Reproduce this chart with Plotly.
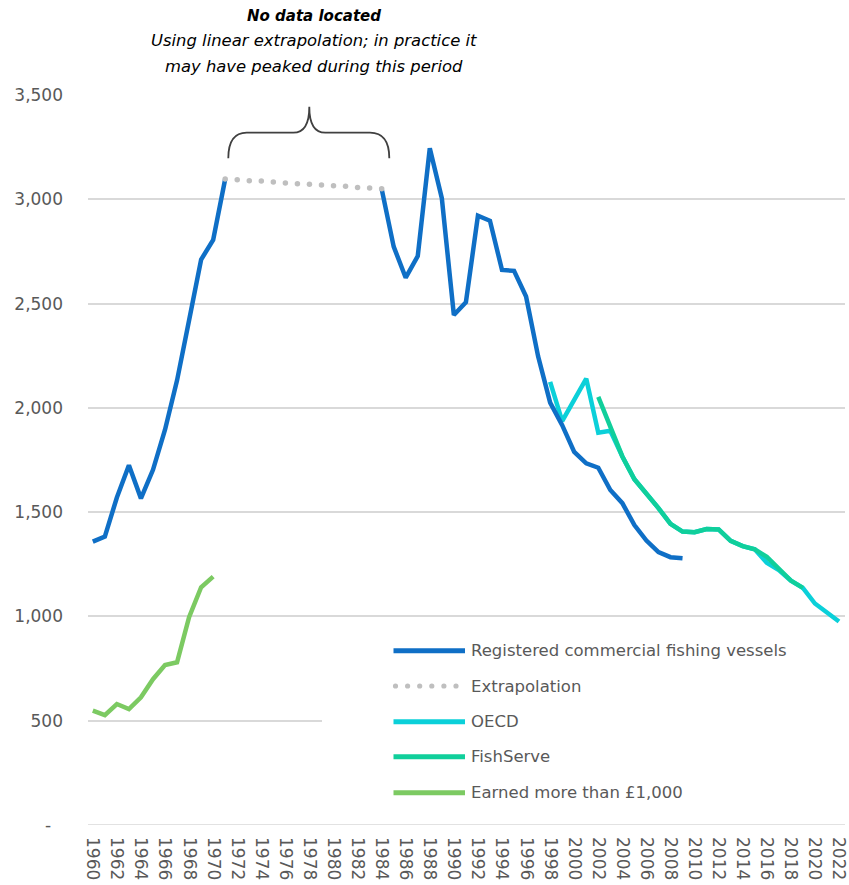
import plotly.graph_objects as go

# ---------------- data ----------------
vessel_years = list(range(1960, 2010))
vessel_values = [1359, 1383, 1570, 1725, 1566, 1703, 1895, 2132, 2420, 2711,
                 2805, 3097, None, None, None, None, None, None, None, None,
                 None, None, None, None, 3050, 2773, 2624, 2728, 3245, 3005,
                 2445, 2506, 2921, 2897, 2661, 2657, 2534, 2247, 2025, 1917,
                 1789, 1734, 1713, 1606, 1543, 1438, 1364, 1308, 1284, 1279]

extrap_years = list(range(1971, 1985))
extrap_values = [3097, 3094, 3089, 3088, 3083, 3078, 3075, 3072, 3069, 3065,
                 3062, 3057, 3054, 3051]

oecd_years = list(range(1998, 2023))
oecd_values = [2125, 1936, None, 2140, 1881, 1890, 1767, 1658, 1591, 1519,
               1444, 1407, 1404, 1419, 1417, 1362, 1337, 1322, 1257, 1222,
               1172, 1137, 1062, 1016, 976]

fishserve_years = list(range(2002, 2020))
fishserve_values = [2053, 1915, 1767, 1658, 1591, 1519, 1444, 1407, 1404, 1419,
                    1417, 1362, 1337, 1322, 1286, 1228, 1172, 1137]

earned_years = list(range(1960, 1971))
earned_values = [548, 527, 580, 556, 612, 699, 767, 780, 996, 1140, 1191]

y_tickvals = [0, 500, 1000, 1500, 2000, 2500, 3000, 3500]
y_ticktext = ["", "500", "1,000", "1,500", "2,000", "2,500", "3,000", "3,500"]
zero_label = "-"
x_tickvals = list(range(1960, 2023, 2))
x_ticktext = [str(v) for v in x_tickvals]

series_names = ["Registered commercial fishing vessels", "Extrapolation", "OECD",
                "FishServe", "Earned more than £1,000"]

# ---------------- style ----------------
C_BLUE = "#0F6FC6"
C_GREY = "#BFBFBF"
C_OECD = "#0BD0D9"
C_FISH = "#10CF9B"
C_EARN = "#7CCA62"
TXT = "#595959"
GRID = "#D9D9D9"
FONT = "DejaVu Sans"

W, H = 849, 885
ML, MR, MT, MB = 88, 4, 95, 60
PW = W - ML - MR
PH = H - MT - MB
XR = [1959.6, 2022.5]
YR = [0, 3500]


def px_x(px):
    return (px - ML) / PW


def px_y(py):
    return (H - MB - py) / PH


def dx(px):
    return XR[0] + (px - ML) / PW * (XR[1] - XR[0])


def dy(py):
    return YR[0] + (H - MB - py) / PH * (YR[1] - YR[0])


fig = go.Figure()
fig.add_trace(go.Scatter(x=earned_years, y=earned_values, mode="lines",
                         line=dict(color=C_EARN, width=4.5), name=series_names[4]))
fig.add_trace(go.Scatter(x=oecd_years, y=oecd_values, mode="lines", connectgaps=True,
                         line=dict(color=C_OECD, width=4.5), name=series_names[2]))
fig.add_trace(go.Scatter(x=fishserve_years, y=fishserve_values, mode="lines",
                         line=dict(color=C_FISH, width=4.5), name=series_names[3]))
fig.add_trace(go.Scatter(x=vessel_years, y=vessel_values, mode="lines",
                         line=dict(color=C_BLUE, width=4.5), name=series_names[0]))
fig.add_trace(go.Scatter(x=extrap_years, y=extrap_values, mode="markers",
                         marker=dict(color=C_GREY, size=5.5), name=series_names[1]))

shapes = []
# baseline gridline at zero
shapes.append(dict(type="line", xref="paper", yref="y", layer="below",
                   x0=0, x1=1, y0=0, y1=0, line=dict(color=GRID, width=1.5)))
# brace
p = [(228.3, 158.3), (228.3, 132.7), (246.7, 132.7), (293.3, 132.7), (309.3, 132.7),
     (309.3, 106.7), (309.3, 132.7), (325.3, 132.7), (370.0, 132.7), (389.3, 132.7),
     (389.3, 158.3)]
q = [f"{dx(a):.3f},{dy(b):.1f}" for a, b in p]
path = (f"M{q[0]} Q{q[1]} {q[2]} L{q[3]} Q{q[4]} {q[5]} Q{q[6]} {q[7]} "
        f"L{q[8]} Q{q[9]} {q[10]}")
shapes.append(dict(type="path", xref="x", yref="y", path=path,
                   line=dict(color="#404040", width=1.8)))

# legend background box
shapes.append(dict(type="rect", xref="paper", yref="paper", layer="above",
                   x0=px_x(322), x1=1.01, y0=px_y(812), y1=px_y(626),
                   fillcolor="white", line=dict(width=0)))

leg_y = [650.7, 686.0, 721.7, 756.7, 792.7]
leg_col = [C_BLUE, None, C_OECD, C_FISH, C_EARN]
annotations = []
for i, (nm, yy, col) in enumerate(zip(series_names, leg_y, leg_col)):
    if col:
        shapes.append(dict(type="line", xref="paper", yref="paper", layer="above",
                           x0=px_x(393.5), x1=px_x(465), y0=px_y(yy), y1=px_y(yy),
                           line=dict(color=col, width=5)))
    else:
        r = 2.6
        for k in range(6):
            cx = 395.5 + 12.1 * k
            shapes.append(dict(type="circle", xref="paper", yref="paper", layer="above",
                               x0=px_x(cx - r), x1=px_x(cx + r),
                               y0=px_y(yy + r), y1=px_y(yy - r),
                               fillcolor=C_GREY, line=dict(width=0)))
    annotations.append(dict(xref="paper", yref="paper", x=px_x(469), y=px_y(yy),
                            xanchor="left", yanchor="middle", showarrow=False,
                            text=nm, font=dict(family=FONT, size=16.5, color=TXT)))

# zero tick label (accounting style dash)
annotations.append(dict(xref="paper", yref="y", x=px_x(48), y=0,
                        xanchor="center", yanchor="middle", showarrow=False,
                        text=zero_label, font=dict(family=FONT, size=17, color=TXT)))

# top note
annotations.append(dict(xref="paper", yref="paper", x=px_x(313.5), y=px_y(15.5),
                        xanchor="center", yanchor="middle", showarrow=False,
                        text="<b><i>No data located</i></b>",
                        font=dict(family=FONT, size=15, color="#000000")))
annotations.append(dict(xref="paper", yref="paper", x=px_x(313.5), y=px_y(40.5),
                        xanchor="center", yanchor="middle", showarrow=False,
                        text="<i>Using linear extrapolation; in practice it</i>",
                        font=dict(family=FONT, size=16.4, color="#000000")))
annotations.append(dict(xref="paper", yref="paper", x=px_x(313.5), y=px_y(66),
                        xanchor="center", yanchor="middle", showarrow=False,
                        text="<i>may have peaked during this period</i>",
                        font=dict(family=FONT, size=16.4, color="#000000")))

fig.update_layout(
    width=W, height=H,
    margin=dict(l=ML, r=MR, t=MT, b=MB, pad=0),
    paper_bgcolor="white", plot_bgcolor="white",
    showlegend=False,
    font=dict(family=FONT, size=16, color=TXT),
    shapes=shapes, annotations=annotations,
    xaxis=dict(range=XR, tickmode="array", tickvals=x_tickvals, ticktext=x_ticktext,
               tickangle=90, showgrid=False, zeroline=False, showline=False,
               tickfont=dict(family=FONT, size=17, color=TXT), ticks="",
               ticklabelstandoff=11, automargin=False, ticklabeloverflow="allow"),
    yaxis=dict(range=YR, tickmode="array", tickvals=y_tickvals, ticktext=y_ticktext,
               showgrid=True, gridcolor=GRID, gridwidth=1.5, zeroline=False,
               showline=False, ticks="",
               tickfont=dict(family=FONT, size=17, color=TXT),
               ticklabelstandoff=24, automargin=False),
)

fig.write_html("out.html", config={"displayModeBar": False},
               post_script="document.body.style.margin='0px';document.body.style.overflow='hidden';")
